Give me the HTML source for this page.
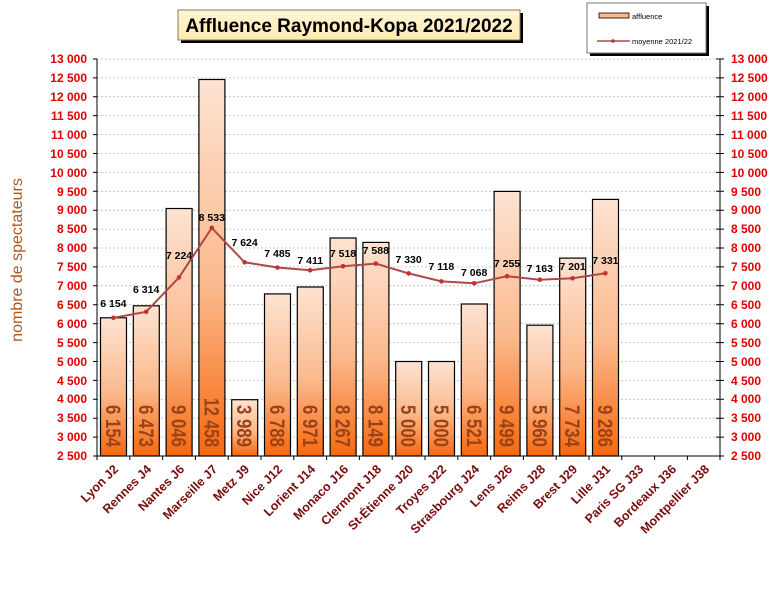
<!DOCTYPE html>
<html><head><meta charset="utf-8"><style>
html,body{margin:0;padding:0;background:#fff;}
svg{display:block;font-family:"Liberation Sans",Arial,sans-serif;}
</style></head><body>
<svg width="769" height="589" viewBox="0 0 769 589" xmlns="http://www.w3.org/2000/svg">
<defs>
<linearGradient id="bg" x1="0" y1="0" x2="0" y2="1" gradientUnits="objectBoundingBox">
<stop offset="0" stop-color="#fde3d2"/><stop offset="0.55" stop-color="#fbb98c"/><stop offset="1" stop-color="#f7680e"/></linearGradient>
<linearGradient id="tg" x1="0" y1="0" x2="0" y2="1"><stop offset="0" stop-color="#fff6d8"/><stop offset="1" stop-color="#fde9b0"/></linearGradient>
</defs>
<rect x="181" y="13" width="342" height="30" fill="#000"/>
<rect x="178" y="10" width="342" height="30" fill="url(#tg)" stroke="#8a7a50" stroke-width="1"/>
<text x="349" y="32" text-anchor="middle" font-size="19" font-weight="bold">Affluence Raymond-Kopa 2021/2022</text>
<rect x="590" y="6" width="119" height="50" fill="#000"/>
<rect x="587" y="3" width="119" height="50" fill="#fff" stroke="#777"/>
<rect x="599" y="13" width="30" height="5" fill="#fcb58a" stroke="#000" stroke-width="0.8"/>
<text x="632" y="19" font-size="7.5">affluence</text>
<line x1="597" y1="41" x2="630" y2="41" stroke="#b04848" stroke-width="1.5"/><circle cx="613" cy="41" r="1.8" fill="#c03030"/>
<text x="632" y="44" font-size="7.5">moyenne 2021/22</text>
<text transform="translate(22,260) rotate(-90)" text-anchor="middle" font-size="16" fill="#b0581c">nombre de spectateurs</text>
<g stroke="#b8b8b8" stroke-width="0.8" stroke-dasharray="2,2">
<line x1="97" x2="720" y1="59" y2="59"/><line x1="97" x2="720" y1="77.9" y2="77.9"/><line x1="97" x2="720" y1="96.7" y2="96.7"/><line x1="97" x2="720" y1="115.6" y2="115.6"/><line x1="97" x2="720" y1="134.6" y2="134.6"/><line x1="97" x2="720" y1="153.5" y2="153.5"/><line x1="97" x2="720" y1="172.4" y2="172.4"/><line x1="97" x2="720" y1="191.3" y2="191.3"/><line x1="97" x2="720" y1="210.2" y2="210.2"/><line x1="97" x2="720" y1="229.1" y2="229.1"/><line x1="97" x2="720" y1="248" y2="248"/><line x1="97" x2="720" y1="266.9" y2="266.9"/><line x1="97" x2="720" y1="285.8" y2="285.8"/><line x1="97" x2="720" y1="304.7" y2="304.7"/><line x1="97" x2="720" y1="323.7" y2="323.7"/><line x1="97" x2="720" y1="342.6" y2="342.6"/><line x1="97" x2="720" y1="361.5" y2="361.5"/><line x1="97" x2="720" y1="380.4" y2="380.4"/><line x1="97" x2="720" y1="399.3" y2="399.3"/><line x1="97" x2="720" y1="418.2" y2="418.2"/><line x1="97" x2="720" y1="437.1" y2="437.1"/>
</g>
<g stroke="#000" stroke-width="1.2" fill="url(#bg)">
<rect x="100.5" y="317.8" width="26" height="138.2"/>
<rect x="133.3" y="305.8" width="26" height="150.2"/>
<rect x="166.1" y="208.5" width="26" height="247.5"/>
<rect x="198.9" y="79.5" width="26" height="376.5"/>
<rect x="231.7" y="399.7" width="26" height="56.3"/>
<rect x="264.5" y="293.9" width="26" height="162.1"/>
<rect x="297.3" y="287" width="26" height="169"/>
<rect x="330.1" y="238" width="26" height="218"/>
<rect x="362.9" y="242.4" width="26" height="213.6"/>
<rect x="395.7" y="361.5" width="26" height="94.5"/>
<rect x="428.5" y="361.5" width="26" height="94.5"/>
<rect x="461.3" y="304" width="26" height="152"/>
<rect x="494.1" y="191.4" width="26" height="264.6"/>
<rect x="526.9" y="325.2" width="26" height="130.8"/>
<rect x="559.7" y="258.1" width="26" height="197.9"/>
<rect x="592.5" y="199.4" width="26" height="256.6"/>
</g>
<g font-size="21" fill="#9a4218" text-anchor="end" font-weight="bold">
<text transform="translate(106,447) rotate(90)" textLength="42" lengthAdjust="spacingAndGlyphs">6 154</text>
<text transform="translate(138.8,447) rotate(90)" textLength="42" lengthAdjust="spacingAndGlyphs">6 473</text>
<text transform="translate(171.6,447) rotate(90)" textLength="42" lengthAdjust="spacingAndGlyphs">9 046</text>
<text transform="translate(204.4,447) rotate(90)" textLength="49" lengthAdjust="spacingAndGlyphs">12 458</text>
<text transform="translate(237.2,447) rotate(90)" textLength="42" lengthAdjust="spacingAndGlyphs">3 989</text>
<text transform="translate(270,447) rotate(90)" textLength="42" lengthAdjust="spacingAndGlyphs">6 788</text>
<text transform="translate(302.8,447) rotate(90)" textLength="42" lengthAdjust="spacingAndGlyphs">6 971</text>
<text transform="translate(335.6,447) rotate(90)" textLength="42" lengthAdjust="spacingAndGlyphs">8 267</text>
<text transform="translate(368.4,447) rotate(90)" textLength="42" lengthAdjust="spacingAndGlyphs">8 149</text>
<text transform="translate(401.2,447) rotate(90)" textLength="42" lengthAdjust="spacingAndGlyphs">5 000</text>
<text transform="translate(434,447) rotate(90)" textLength="42" lengthAdjust="spacingAndGlyphs">5 000</text>
<text transform="translate(466.8,447) rotate(90)" textLength="42" lengthAdjust="spacingAndGlyphs">6 521</text>
<text transform="translate(499.6,447) rotate(90)" textLength="42" lengthAdjust="spacingAndGlyphs">9 499</text>
<text transform="translate(532.4,447) rotate(90)" textLength="42" lengthAdjust="spacingAndGlyphs">5 960</text>
<text transform="translate(565.2,447) rotate(90)" textLength="42" lengthAdjust="spacingAndGlyphs">7 734</text>
<text transform="translate(598,447) rotate(90)" textLength="42" lengthAdjust="spacingAndGlyphs">9 286</text>
</g>
<polyline fill="none" stroke="#b04848" stroke-width="2" stroke-linejoin="round" points="113.4,317.8 146.2,311.8 179,277.4 211.8,227.9 244.6,262.3 277.4,267.5 310.2,270.3 343,266.3 375.8,263.6 408.6,273.4 441.4,281.4 474.2,283.3 507,276.2 539.8,279.7 572.6,278.3 605.4,273.3"/>
<g fill="#c83030">
<circle cx="113.4" cy="317.8" r="2.3"/><circle cx="146.2" cy="311.8" r="2.3"/><circle cx="179" cy="277.4" r="2.3"/><circle cx="211.8" cy="227.9" r="2.3"/><circle cx="244.6" cy="262.3" r="2.3"/><circle cx="277.4" cy="267.5" r="2.3"/><circle cx="310.2" cy="270.3" r="2.3"/><circle cx="343" cy="266.3" r="2.3"/><circle cx="375.8" cy="263.6" r="2.3"/><circle cx="408.6" cy="273.4" r="2.3"/><circle cx="441.4" cy="281.4" r="2.3"/><circle cx="474.2" cy="283.3" r="2.3"/><circle cx="507" cy="276.2" r="2.3"/><circle cx="539.8" cy="279.7" r="2.3"/><circle cx="572.6" cy="278.3" r="2.3"/><circle cx="605.4" cy="273.3" r="2.3"/>
</g>
<g font-size="10.5" font-weight="bold" text-anchor="middle" fill="#000">
<text x="113.4" y="307">6 154</text><text x="146.2" y="293">6 314</text><text x="179" y="259">7 224</text><text x="211.8" y="221">8 533</text><text x="244.6" y="246">7 624</text><text x="277.4" y="257">7 485</text><text x="310.2" y="264">7 411</text><text x="343" y="257">7 518</text><text x="375.8" y="254">7 588</text><text x="408.6" y="263">7 330</text><text x="441.4" y="270">7 118</text><text x="474.2" y="276">7 068</text><text x="507" y="267">7 255</text><text x="539.8" y="272">7 163</text><text x="572.6" y="270">7 201</text><text x="605.4" y="264">7 331</text>
</g>
<g stroke="#000" stroke-width="1">
<line x1="97" y1="59" x2="97" y2="456"/><line x1="720" y1="59" x2="720" y2="456"/><line x1="97" y1="456" x2="720" y2="456"/>
<path d="M93 59h4M93 77.9h4M93 96.7h4M93 115.6h4M93 134.6h4M93 153.5h4M93 172.4h4M93 191.3h4M93 210.2h4M93 229.1h4M93 248h4M93 266.9h4M93 285.8h4M93 304.7h4M93 323.7h4M93 342.6h4M93 361.5h4M93 380.4h4M93 399.3h4M93 418.2h4M93 437.1h4M93 456h4"/>
<path d="M716 59h8M716 77.9h8M716 96.7h8M716 115.6h8M716 134.6h8M716 153.5h8M716 172.4h8M716 191.3h8M716 210.2h8M716 229.1h8M716 248h8M716 266.9h8M716 285.8h8M716 304.7h8M716 323.7h8M716 342.6h8M716 361.5h8M716 380.4h8M716 399.3h8M716 418.2h8M716 437.1h8M716 456h8"/>
<path d="M97 456v4M129.8 456v4M162.6 456v4M195.4 456v4M228.2 456v4M261 456v4M293.8 456v4M326.6 456v4M359.4 456v4M392.2 456v4M425 456v4M457.8 456v4M490.6 456v4M523.4 456v4M556.2 456v4M589 456v4M621.8 456v4M654.6 456v4M687.4 456v4M720 456v4"/>
</g>
<g font-size="12" font-weight="bold" fill="#e00000" text-anchor="end">
<text x="87" y="63">13 000</text><text x="87" y="82">12 500</text><text x="87" y="101">12 000</text><text x="87" y="120">11 500</text><text x="87" y="139">11 000</text><text x="87" y="158">10 500</text><text x="87" y="177">10 000</text><text x="87" y="196">9 500</text><text x="87" y="214">9 000</text><text x="87" y="233">8 500</text><text x="87" y="252">8 000</text><text x="87" y="271">7 500</text><text x="87" y="290">7 000</text><text x="87" y="309">6 500</text><text x="87" y="328">6 000</text><text x="87" y="347">5 500</text><text x="87" y="366">5 000</text><text x="87" y="385">4 500</text><text x="87" y="403">4 000</text><text x="87" y="422">3 500</text><text x="87" y="441">3 000</text><text x="87" y="460">2 500</text>
</g>
<g font-size="12" font-weight="bold" fill="#e00000" text-anchor="start">
<text x="731" y="63">13 000</text><text x="731" y="82">12 500</text><text x="731" y="101">12 000</text><text x="731" y="120">11 500</text><text x="731" y="139">11 000</text><text x="731" y="158">10 500</text><text x="731" y="177">10 000</text><text x="731" y="196">9 500</text><text x="731" y="214">9 000</text><text x="731" y="233">8 500</text><text x="731" y="252">8 000</text><text x="731" y="271">7 500</text><text x="731" y="290">7 000</text><text x="731" y="309">6 500</text><text x="731" y="328">6 000</text><text x="731" y="347">5 500</text><text x="731" y="366">5 000</text><text x="731" y="385">4 500</text><text x="731" y="403">4 000</text><text x="731" y="422">3 500</text><text x="731" y="441">3 000</text><text x="731" y="460">2 500</text>
</g>
<g font-size="12.5" font-weight="bold" fill="#7a0c0c" text-anchor="end">
<text transform="translate(119,470) rotate(-45)">Lyon J2</text>
<text transform="translate(152,470) rotate(-45)">Rennes J4</text>
<text transform="translate(185,470) rotate(-45)">Nantes J6</text>
<text transform="translate(218,470) rotate(-45)">Marseille J7</text>
<text transform="translate(250,470) rotate(-45)">Metz J9</text>
<text transform="translate(283,470) rotate(-45)">Nice J12</text>
<text transform="translate(316,470) rotate(-45)">Lorient J14</text>
<text transform="translate(349,470) rotate(-45)">Monaco J16</text>
<text transform="translate(382,470) rotate(-45)">Clermont J18</text>
<text transform="translate(414,470) rotate(-45)">St-Étienne J20</text>
<text transform="translate(447,470) rotate(-45)">Troyes J22</text>
<text transform="translate(480,470) rotate(-45)">Strasbourg J24</text>
<text transform="translate(513,470) rotate(-45)">Lens J26</text>
<text transform="translate(546,470) rotate(-45)">Reims J28</text>
<text transform="translate(578,470) rotate(-45)">Brest J29</text>
<text transform="translate(611,470) rotate(-45)">Lille J31</text>
<text transform="translate(644,470) rotate(-45)">Paris SG J33</text>
<text transform="translate(677,470) rotate(-45)">Bordeaux J36</text>
<text transform="translate(710,470) rotate(-45)">Montpellier J38</text>
</g>
</svg>
</body></html>
